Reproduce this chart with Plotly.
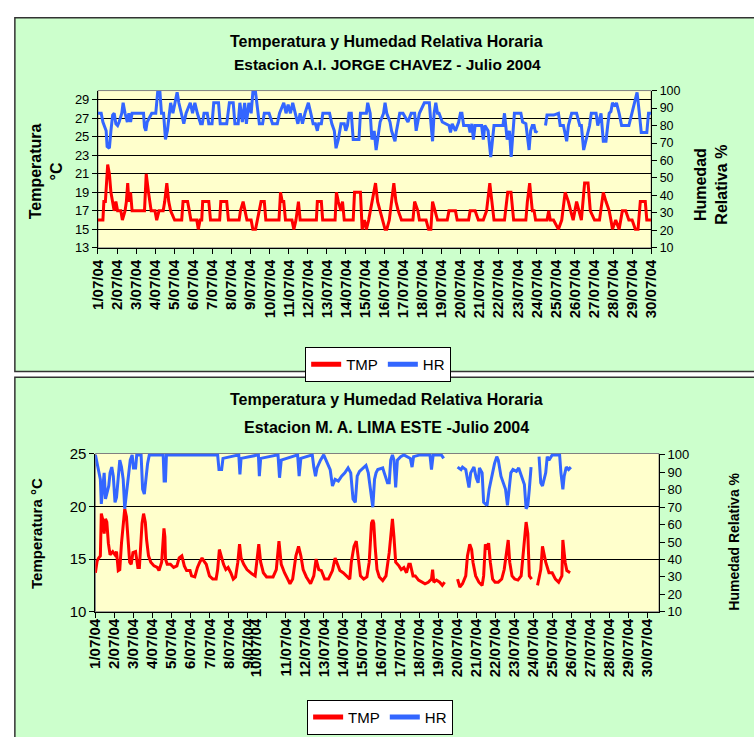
import plotly.graph_objects as go

W, H = 754, 737
def fx(p): return p / W
def fy(p): return 1 - p / H

# ---------------- data (x in days since 1/07/04 00h) ----------------
date_labels = ["1/07/04", "2/07/04", "3/07/04", "4/07/04", "5/07/04", "6/07/04", "7/07/04",
               "8/07/04", "9/07/04", "10/07/04", "11/07/04", "12/07/04", "13/07/04", "14/07/04",
               "15/07/04", "16/07/04", "17/07/04", "18/07/04", "19/07/04", "20/07/04", "21/07/04",
               "22/07/04", "23/07/04", "24/07/04", "25/07/04", "26/07/04", "27/07/04", "28/07/04",
               "29/07/04", "30/07/04"]
top_tick_pos = [0, 1, 2, 3, 4, 5, 6, 7, 8, 9, 10, 11, 12, 13, 14, 15, 16, 17, 18, 19, 20,
                21, 22, 23, 24, 25, 26, 27, 28, 29]
low_tick_pos = [0, 1, 2, 3, 4, 5, 6, 7, 8, 8.45, 10, 11, 12, 13, 14, 15, 16, 17, 18, 19, 20,
                21, 22, 23, 24, 25, 26, 27, 28, 29]

# Top chart: Estacion A.I. JORGE CHAVEZ
tmp_top_day = [0.00, 0.26, 0.31, 0.39, 0.51, 0.60, 0.68, 0.77, 0.85, 0.94, 1.03, 1.20, 1.28, 1.42, 1.49,
               1.56, 1.62, 1.71, 1.79, 2.44, 2.53, 2.65, 2.79, 2.99, 3.08, 3.20, 3.42, 3.50, 3.61, 3.71,
               3.81, 4.02, 4.39, 4.46, 4.70, 4.79, 4.87, 5.18, 5.26, 5.35, 5.44, 5.49, 5.81, 5.90, 6.38,
               6.44, 6.75, 6.84, 7.40, 7.47, 7.61, 7.71, 7.81, 8.03, 8.12, 8.26, 8.36, 8.46, 8.55, 8.72,
               8.80, 9.49, 9.57, 9.66, 9.74, 9.83, 10.17, 10.27, 10.38, 10.51, 10.60, 11.45, 11.50, 11.71,
               11.78, 12.43, 12.50, 12.60, 12.74, 12.82, 12.91, 13.38, 13.45, 13.76, 13.85, 13.97, 14.07,
               14.19, 14.36, 14.55, 14.66, 14.79, 14.88, 15.05, 15.14, 15.27, 15.39, 15.51, 15.62, 15.74,
               15.91, 16.51, 16.60, 16.77, 16.85, 17.20, 17.33, 17.45, 17.54, 17.68, 17.80, 18.31, 18.40,
               18.74, 18.83, 19.43, 19.51, 19.77, 19.94, 20.20, 20.37, 20.54, 20.66, 20.76, 21.31, 21.48,
               21.65, 21.79, 22.43, 22.51, 22.63, 22.77, 22.86, 22.94, 23.54, 23.63, 23.71, 23.88, 24.14,
               24.31, 24.49, 24.66, 24.78, 24.91, 25.09, 25.22, 25.34, 25.51, 25.69, 25.81, 26.03, 26.29,
               26.49, 26.63, 26.80, 26.89, 26.97, 27.14, 27.32, 27.49, 27.66, 27.83, 28.00, 28.17, 28.31,
               28.43, 28.69, 28.77, 29.00]
tmp_top_val = [16, 16, 18, 18, 22, 21, 19, 18, 17, 18, 17, 17, 16, 17, 18,
               20, 18, 19, 17, 17, 21, 19, 17, 17, 16, 17, 17, 18, 20, 18,
               17, 16, 16, 18, 18, 17, 16, 16, 15, 16, 16, 18, 18, 16, 16,
               18, 18, 16, 16, 17, 18, 17, 16, 16, 15, 15, 16, 17, 18, 18,
               16, 16, 19, 18, 18, 16, 16, 15, 16, 18, 16, 16, 18, 18,
               16, 16, 19, 18, 17, 18, 16, 16, 19, 19, 15, 16, 15,
               16, 18, 20, 18, 17, 16, 15, 15, 16, 18, 20, 18, 17,
               16, 16, 18, 17, 16, 16, 15, 15, 18, 17, 16, 16, 17,
               17, 16, 16, 17, 17, 16, 16, 17, 20, 18, 16, 16, 19,
               19, 16, 16, 18, 20, 17, 17, 16, 16, 17, 16, 16, 15,
               16, 19, 18, 17, 16, 18, 17, 16, 20, 20, 17, 16, 16,
               19, 18, 17, 16, 15, 16, 15, 17, 17, 16, 16, 15, 15,
               18, 18, 16, 16]

hr_top_day = [0.00, 0.17, 0.26, 0.34, 0.43, 0.48, 0.60, 0.68, 0.77, 0.85, 0.94, 1.03, 1.11, 1.25, 1.32,
              1.42, 1.54, 1.62, 1.71, 1.79, 2.39, 2.44, 2.51, 2.58, 2.82, 3.03, 3.13, 3.25, 3.33, 3.44,
              3.54, 3.64, 3.73, 3.81, 3.93, 4.05, 4.15, 4.24, 4.36, 4.50, 4.62, 4.84, 4.96, 5.08, 5.21,
              5.38, 5.47, 5.56, 5.73, 5.81, 5.98, 6.07, 6.32, 6.41, 6.75, 6.89, 7.09, 7.18, 7.35, 7.44,
              7.57, 7.69, 7.78, 7.91, 8.03, 8.12, 8.26, 8.38, 8.46, 8.63, 8.72, 8.97, 9.15, 9.40, 9.52,
              9.74, 9.86, 9.97, 10.09, 10.21, 10.34, 10.48, 10.60, 10.72, 10.85, 11.03, 11.16, 11.28,
              11.40, 11.50, 11.57, 11.71, 11.79, 12.14, 12.26, 12.39, 12.48, 12.60, 12.74, 12.91, 12.99,
              13.08, 13.16, 13.28, 13.38, 13.68, 13.76, 14.07, 14.14, 14.27, 14.36, 14.48, 14.58, 14.70,
              14.79, 14.97, 15.05, 15.14, 15.31, 15.39, 15.57, 15.65, 15.82, 15.99, 16.25, 16.42, 16.60,
              16.68, 16.77, 16.85, 17.11, 17.37, 17.45, 17.54, 17.62, 17.71, 17.80, 17.88, 18.05, 18.40,
              18.48, 18.57, 18.74, 18.91, 19.00, 19.08, 19.17, 19.43, 19.51, 19.60, 19.68, 19.77, 20.11,
              20.20, 20.28, 20.45, 20.59, 20.68, 20.76, 21.23, 21.31, 21.45, 21.57, 21.66, 21.74, 21.83,
              22.17, 22.26, 22.43, 22.51, 22.60, 22.68, 22.77, 22.86, 22.94, 23.03, None, 23.46, 23.54,
              23.89, 24.14, 24.23, 24.40, 24.57, 24.66, 24.83, 25.09, 25.26, 25.34, 25.46, 25.60, 25.77,
              25.86, 26.11, 26.20, 26.37, 26.49, 26.63, 26.72, 26.80, 26.89, 26.97, 27.11, 27.18, 27.32,
              27.45, 27.83, 28.00, 28.14, 28.26, 28.38, 28.48, 28.77, 28.86, 29.00]
hr_top_val = [87, 87, 82, 80, 77, 68, 67, 77, 86, 87, 81, 80, 82, 87, 93,
              87, 82, 87, 82, 87, 87, 79, 77, 82, 87, 87, 99, 99, 87, 87,
              72, 77, 87, 93, 87, 93, 99, 93, 87, 81, 87, 93, 87, 93, 87,
              81, 81, 87, 87, 81, 81, 93, 93, 81, 81, 93, 93, 81, 81, 93,
              82, 93, 81, 93, 87, 99, 99, 87, 81, 81, 87, 87, 81, 81, 87,
              93, 87, 92, 87, 93, 87, 81, 87, 81, 87, 93, 87, 81,
              81, 77, 81, 81, 87, 87, 81, 77, 67, 72, 81, 81, 77,
              80, 87, 87, 72, 72, 87, 87, 93, 87, 72, 77, 66, 77,
              82, 87, 93, 87, 82, 77, 71, 77, 87, 87, 82, 87, 87,
              77, 82, 87, 93, 93, 82, 71, 87, 93, 87, 87, 82, 80,
              76, 81, 77, 82, 87, 87, 80, 80, 76, 81, 72, 80, 80,
              72, 80, 77, 62, 72, 80, 80, 87, 72, 77, 62, 77, 87,
              87, 82, 81, 72, 66, 77, 80, 80, 76, 77, None, 80, 86,
              86, 87, 80, 80, 71, 80, 87, 87, 80, 80, 66, 72, 80,
              87, 87, 80, 87, 71, 71, 80, 87, 88, 93, 91, 93, 87,
              80, 80, 87, 93, 99, 87, 76, 76, 87, 87]

# Lower chart: Estacion M. A. LIMA ESTE
tmp_low_day = [0.00, 0.09, 0.17, 0.26, 0.31, 0.39, 0.46, 0.53, 0.60, 0.68, 0.77, 0.91, 1.03, 1.11, 1.20,
               1.28, 1.37, 1.46, 1.54, 1.63, 1.71, 1.80, 1.88, 1.97, 2.11, 2.23, 2.31, 2.45, 2.53, 2.62,
               2.69, 2.79, 2.91, 3.08, 3.25, 3.34, 3.48, 3.60, 3.65, 3.68, 3.77, 3.94, 4.11, 4.28, 4.40,
               4.54, 4.67, 4.79, 4.97, 5.05, 5.22, 5.36, 5.48, 5.60, 5.70, 5.82, 5.99, 6.16, 6.34, 6.42,
               6.51, 6.59, 6.73, 6.85, 6.97, 7.11, 7.24, 7.36, 7.48, 7.57, 7.65, 7.79, 7.96, 8.22, 8.39,
               8.48, 8.58, 8.68, 8.82, 8.99, 9.33, 9.50, 9.64, 9.76, 9.93, 10.10, 10.22, 10.36, 10.53,
               10.67, 10.79, 10.91, 11.08, 11.30, 11.47, 11.59, 11.73, 11.87, 12.04, 12.24, 12.45, 12.59,
               12.72, 12.84, 13.01, 13.18, 13.36, 13.44, 13.58, 13.70, 13.78, 13.92, 14.09, 14.26, 14.38,
               14.50, 14.57, 14.62, 14.69, 14.79, 14.91, 15.09, 15.26, 15.34, 15.43, 15.51, 15.60, 15.68,
               15.77, 15.94, 16.06, 16.20, 16.34, 16.46, 16.54, 16.68, 16.80, 16.97, 17.14, 17.31, 17.48,
               17.65, 17.71, 17.77, 17.91, 18.08, 18.22, 18.34, None, 19.02, 19.14, 19.28, 19.45, 19.54,
               19.66, 19.76, 19.83, 19.97, 20.14, 20.31, 20.39, 20.48, 20.57, 20.65, 20.74, 20.86, 20.99,
               21.16, 21.34, 21.47, 21.59, 21.68, 21.76, 21.88, 22.02, 22.19, 22.36, 22.50, 22.62, 22.71,
               22.79, 22.91, None, 23.22, 23.30, 23.39, 23.48, 23.56, 23.65, 23.82, 23.99, 24.16, 24.33,
               24.50, 24.55, 24.67, 24.76, 24.93]
tmp_low_val = [13.7, 14.8, 15.1, 15.3, 19.3, 18.7, 17.4, 18.8, 18.5, 16.5, 15.4, 15.7, 15.4, 15.7, 13.9,
               14.0, 16.5, 18.4, 19.75, 19.0, 16.5, 14.7, 14.5, 15.6, 15.7, 14.2, 14.2, 18.4, 19.3, 18.5,
               16.8, 15.3, 14.7, 14.35, 14.2, 13.9, 14.7, 17.9, 17.1, 15.0, 14.5, 14.5, 14.2, 14.35, 15.1,
               15.3, 14.35, 13.9, 13.9, 13.4, 13.3, 14.2, 14.7, 15.1, 14.8, 14.5, 13.4, 13.1, 13.1, 14.0,
               15.9, 15.3, 14.5, 14.0, 14.2, 13.7, 13.1, 13.3, 14.7, 16.4, 15.1, 14.5, 14.0, 13.6, 13.4,
               14.8, 16.4, 14.7, 13.7, 13.3, 13.3, 14.0, 16.7, 14.5, 13.7, 13.1, 12.65, 13.1, 15.3,
               16.2, 15.3, 14.0, 13.3, 12.65, 13.4, 15.0, 14.0, 13.9, 13.1, 13.1, 13.9, 15.1,
               14.5, 13.9, 13.7, 13.4, 13.1, 14.7, 16.2, 16.7, 15.3, 13.4, 13.1, 13.3, 14.7,
               18.4, 18.7, 18.4, 16.2, 14.0, 13.3, 12.96, 13.4, 14.35, 15.6, 17.1, 18.8, 17.1,
               14.7, 14.35, 14.0, 14.2, 13.7, 14.5, 14.5, 13.4, 13.4, 13.0, 12.8, 12.65, 12.8,
               13.1, 14.0, 12.8, 13.0, 12.8, 12.5, 12.8, None, 13.1, 12.35, 12.65, 13.4, 15.3,
               16.4, 15.9, 14.7, 13.4, 12.8, 12.5, 13.4, 16.4, 15.9, 16.5, 14.7, 13.1, 12.8,
               12.8, 13.1, 14.0, 15.9, 16.8, 14.7, 13.4, 13.1, 13.0, 13.4, 16.2, 18.5, 17.4,
               13.4, 13.1, None, 12.5, 13.1, 14.0, 16.2, 15.3, 14.7, 13.7, 13.7, 13.1, 12.8,
               13.4, 16.8, 14.7, 13.9, 13.7]

hr_low_day = [0.00, 0.09, 0.17, 0.26, 0.31, 0.39, 0.46, 0.53, 0.63, 0.70, 0.77, 0.86, 0.94, 1.03, 1.11,
              1.20, 1.28, 1.37, 1.46, 1.54, 1.63, 1.71, 1.83, 1.93, 2.00, 2.11, 2.17, 2.40, 2.48, 2.57,
              2.65, 2.74, 2.83, 3.56, 3.61, 3.68, 3.73, 6.42, 6.49, 6.63, 6.70, 7.53, 7.59, 7.65, 8.56,
              8.61, 8.68, 9.59, 9.67, 9.76, 10.62, 10.70, 10.79, 11.39, 11.47, 11.56, 11.64, 11.82, 11.99,
              12.16, 12.33, 12.45, 12.59, 12.76, 12.93, 13.10, 13.27, 13.41, 13.53, 13.65, 13.75, 13.87,
              14.04, 14.21, 14.33, 14.47, 14.57, 14.66, 14.74, 14.83, 15.00, 15.09, 15.17, 15.26, 15.34,
              15.43, 15.48, 15.51, 15.60, 15.68, 15.77, 15.86, 16.03, 16.20, 16.54, 16.63, 16.71, 17.05,
              17.57, 17.65, 17.74, 18.17, 18.29, None, 19.02, 19.20, 19.28, 19.45, 19.54, 19.62, 19.71,
              19.79, 19.88, 20.00, 20.10, 20.17, 20.31, 20.39, 20.57, 20.68, 20.82, 20.96, 21.08, 21.16,
              21.30, 21.42, 21.54, 21.64, 21.71, 21.82, 21.93, 22.11, 22.23, 22.36, 22.53, 22.62, 22.71,
              22.79, 22.88, None, 23.30, 23.39, 23.48, 23.65, 23.73, 23.82, 23.99, 24.38, 24.45, 24.55,
              24.62, 24.73, 24.85, 24.97]
hr_low_val = [100, 95, 91.6, 86, 71.9, 80.3, 89.7, 74.7, 78.5, 82.2, 89.7, 93, 87.8, 72.8, 75.7,
              89.7, 97, 93, 86, 69.1, 78.5, 84, 97, 100, 92.5, 92.5, 100, 100, 80.3, 77.5,
              86, 95, 100, 100, 85, 85, 100, 100, 91.6, 91.6, 98, 100, 88.8, 98, 100,
              87.8, 98, 100, 86.9, 97, 100, 87.8, 98, 100, 93, 87.8, 92.5, 97, 100,
              96, 91.6, 82.2, 86, 85, 87.8, 89.7, 92.5, 89.7, 74.7, 72.8, 87.8, 90.6,
              92.5, 94, 89.7, 76.6, 70, 86, 89.7, 91.6, 92.5, 92.5, 89.7, 86, 84,
              84, 91.6, 97, 100, 97, 81.3, 97, 99, 100, 98, 93, 99, 100,
              100, 91.6, 100, 100, 98, None, 93, 91.6, 93, 91.6, 86, 81.3, 89.7,
              91.6, 93, 86.9, 84, 92.5, 89.7, 72.8, 71, 80.3, 87.8, 95, 99, 97,
              87.8, 84, 80.3, 71, 80.3, 89.7, 91.6, 90.6, 92.5, 87.8, 83, 69.1, 71,
              80.3, 93, None, 99, 84, 82.2, 89.7, 99, 97, 100, 100, 89.7, 80.3,
              87.8, 93, 91.6, 93]

# ---------------- figure ----------------
FONT = "Liberation Sans, Arial, sans-serif"
RED = "#FF0000"
BLUE = "#3366FF"
GREEN_BG = "#CCFFCC"
YELLOW_BG = "#FFFFCC"

fig = go.Figure()
fig.add_trace(go.Scatter(x=tmp_top_day, y=tmp_top_val, name="TMP", mode="lines",
                         line=dict(color=RED, width=3), xaxis="x", yaxis="y", legend="legend"))
fig.add_trace(go.Scatter(x=hr_top_day, y=hr_top_val, name="HR", mode="lines",
                         line=dict(color=BLUE, width=3), xaxis="x", yaxis="y2", legend="legend"))
fig.add_trace(go.Scatter(x=tmp_low_day, y=tmp_low_val, name="TMP", mode="lines",
                         line=dict(color=RED, width=3), xaxis="x2", yaxis="y3", legend="legend2"))
fig.add_trace(go.Scatter(x=hr_low_day, y=hr_low_val, name="HR", mode="lines",
                         line=dict(color=BLUE, width=3), xaxis="x2", yaxis="y4", legend="legend2"))

xtick_font = dict(family=FONT, size=15, color="black", weight="bold")
common_y = dict(showline=True, linecolor="black", linewidth=1, ticks="outside", ticklen=5,
                tickcolor="black", zeroline=False, fixedrange=True)

legend_common = dict(orientation="h", bgcolor="white", bordercolor="black", borderwidth=1,
                     font=dict(family=FONT, size=15, color="black"), xanchor="left", yanchor="top",
                     itemsizing="constant", tracegroupgap=0, itemwidth=30)

fig.update_layout(
    width=W, height=H, margin=dict(l=0, r=0, t=0, b=0),
    paper_bgcolor="white", plot_bgcolor=YELLOW_BG,
    font=dict(family=FONT, color="black"),
    showlegend=True,
    xaxis=dict(domain=[fx(91), fx(657)], range=[0, 29], anchor="y",
               tickmode="array", tickvals=top_tick_pos, ticktext=date_labels, tickangle=-90,
               tickfont=xtick_font, ticks="outside", ticklen=5, tickcolor="black",
               showline=True, linecolor="black", showgrid=False, zeroline=False),
    yaxis=dict(domain=[fy(244.5), fy(83.5)], range=[13, 30], anchor="x",
               tickmode="array", tickvals=[13, 15, 17, 19, 21, 23, 25, 27, 29],
               showgrid=True, gridcolor="black", gridwidth=1,
               tickfont=dict(family=FONT, size=13, color="black"), **common_y),
    yaxis2=dict(overlaying="y", side="right", anchor="x", range=[10, 100], dtick=10, tick0=10,
                showgrid=False, tickfont=dict(family=FONT, size=12.5, color="black"), **common_y),
    xaxis2=dict(domain=[fx(88.4), fx(665)], range=[0, 29.6], anchor="y3",
                tickmode="array", tickvals=low_tick_pos, ticktext=date_labels, tickangle=-90,
                tickfont=xtick_font, ticks="outside", ticklen=0.1, tickcolor="black",
                minor=dict(tickmode="linear", tick0=0, dtick=1, ticks="outside", ticklen=5,
                           tickcolor="black", showgrid=False),
                showline=True, linecolor="black", showgrid=False, zeroline=False),
    yaxis3=dict(domain=[fy(617), fy(455)], range=[10, 25], anchor="x2", dtick=5, tick0=10,
                showgrid=True, gridcolor="black", gridwidth=1,
                tickfont=dict(family=FONT, size=15, color="black"), **common_y),
    yaxis4=dict(overlaying="y3", side="right", anchor="x2", range=[10, 100.8], dtick=10, tick0=10,
                showgrid=False, tickfont=dict(family=FONT, size=13, color="black"), **common_y),
    legend=dict(x=fx(303), y=fy(346), **legend_common),
    legend2=dict(x=fx(305), y=fy(707), **legend_common),
)

shapes = [
    # panel backgrounds
    dict(type="rect", xref="paper", yref="paper", x0=fx(6), x1=fx(775), y0=fy(371), y1=fy(9),
         fillcolor=GREEN_BG, line=dict(color="#333333", width=1.5), layer="below"),
    dict(type="rect", xref="paper", yref="paper", x0=fx(6), x1=fx(775), y0=fy(760), y1=fy(377),
         fillcolor=GREEN_BG, line=dict(color="#333333", width=1.5), layer="below"),
    # plot areas
    dict(type="rect", xref="x domain", yref="y domain", x0=0, x1=1, y0=0, y1=1,
         fillcolor=YELLOW_BG, line=dict(color="#808080", width=1), layer="below"),
    dict(type="rect", xref="x2 domain", yref="y3 domain", x0=0, x1=1, y0=0, y1=1,
         fillcolor=YELLOW_BG, line=dict(color="#808080", width=1), layer="below"),
]
fig.update_layout(shapes=shapes)

def ann(text, x, y, size, angle=0, bold=True):
    return dict(text=f"<b>{text}</b>" if bold else text, x=fx(x), y=fy(y), xref="paper", yref="paper",
                showarrow=False, textangle=angle, xanchor="center", yanchor="middle",
                font=dict(family=FONT, size=size, color="black"))

annotations = [
    ann("Temperatura y Humedad Relativa Horaria", 386, 33, 16),
    ann("Estacion A.I. JORGE CHAVEZ - Julio 2004", 387, 57, 15.5),
    ann("Temperatura<br>°C", 38, 166, 16, -90),
    ann("Humedad<br>Relativa %", 718, 180, 16, -90),
    ann("Temperatura y Humedad Relativa Horaria", 386, 400, 16),
    ann("Estacion M. A. LIMA ESTE -Julio 2004", 386, 428, 16),
    ann("Temperatura °C", 28, 537, 15, -90),
    ann("Humedad Relativa %", 742, 545, 14, -90),
]
fig.update_layout(annotations=annotations)

# remove the default 8px body margin so the 754x737 figure fills the window
fig.write_html("out.html", config={"displayModeBar": False},
               post_script="document.body.style.margin='0';document.body.style.overflow='hidden';")
